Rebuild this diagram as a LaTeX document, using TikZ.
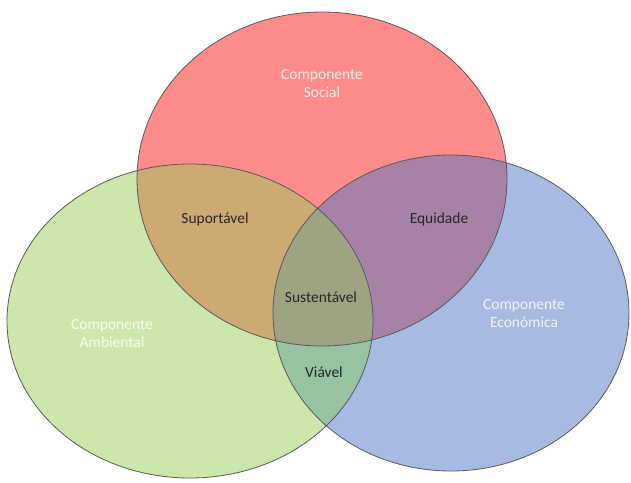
\documentclass[tikz,border=0pt]{standalone}
\usepackage{fontspec}
\setmainfont{Carlito}
\definecolor{socialc}{HTML}{FF8B8B}
\definecolor{ambientc}{HTML}{CDE6AC}
\definecolor{economc}{HTML}{A7BAE2}
\definecolor{socamb}{HTML}{CDAA73}
\definecolor{soceco}{HTML}{A882A6}
\definecolor{ambeco}{HTML}{96C3A0}
\definecolor{allthree}{HTML}{9EA382}
\tikzstyle{rim}=[draw=black!65, line width=0.6pt]
\tikzstyle{darktext}=[text=black!85, font=\fontsize{11.6}{13.5}\selectfont]
\tikzstyle{lighttext}=[text=white, text opacity=0.85, align=center, font=\fontsize{11.6}{13.5}\selectfont]
\newcommand{\social}{(322,179) ellipse [x radius=185, y radius=167]}
\newcommand{\ambient}{(190,321) ellipse [x radius=183, y radius=157]}
\newcommand{\econom}{(451,313) ellipse [x radius=178, y radius=158]}

\begin{document}
\begin{tikzpicture}[x=0.75pt, y=-0.75pt]
\useasboundingbox (0,0) rectangle (631,482);
\fill[white] (0,0) rectangle (631,482);
% the three sets
\fill[ambientc] \ambient;
\fill[economc] \econom;
\fill[socialc] \social;
% pairwise overlaps
\begin{scope}
  \clip \social;
  \fill[socamb] \ambient;
  \fill[soceco] \econom;
\end{scope}
\begin{scope}
  \clip \ambient;
  \fill[ambeco] \econom;
\end{scope}
% middle
\begin{scope}
  \clip \social;
  \clip \ambient;
  \fill[allthree] \econom;
\end{scope}
\path[rim] \social \ambient \econom;

\node[lighttext] (social) at (322,84) {Componente\\Social};
\node[lighttext] (ambiental) at (112,334) {Componente\\Ambiental};
\node[lighttext] (economica) at (524,314) {Componente\\Económica};
\node[darktext] (suportavel) at (215,219) {Suportável};
\node[darktext] (equidade) at (439,219) {Equidade};
\node[darktext] (sustentavel) at (321,297) {Sustentável};
\node[darktext] (viavel) at (324,372) {Viável};
\end{tikzpicture}
\end{document}
